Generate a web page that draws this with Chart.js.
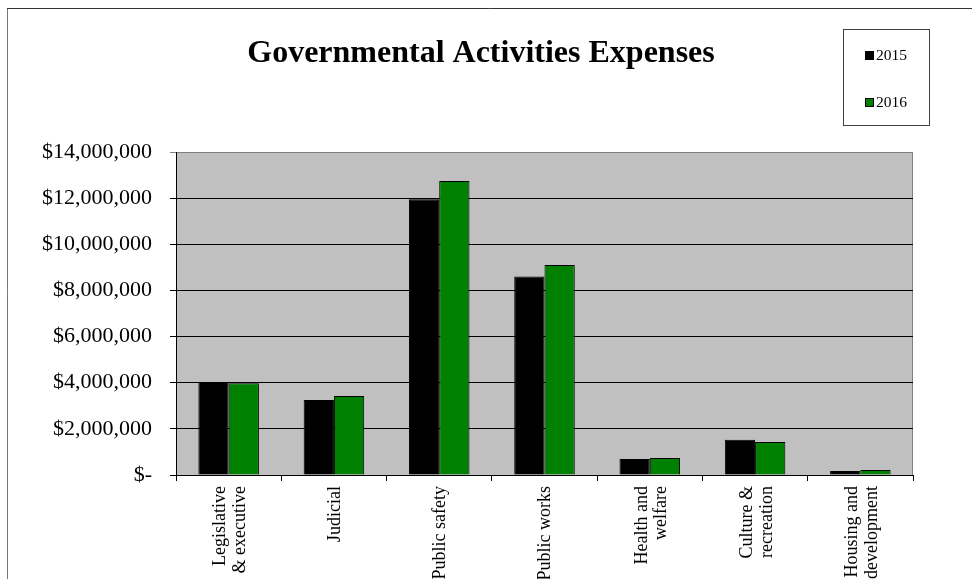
<!DOCTYPE html>
<html>
<head>
<meta charset="utf-8">
<script src="https://cdn.jsdelivr.net/npm/chart.js@4/dist/chart.umd.min.js"></script>
<style>
  html, body { margin: 0; padding: 0; background: #fff; }
  #wrap { width: 972px; height: 579px; position: relative; }
</style>
</head>
<body>
<div id="wrap"><canvas id="expense-chart" width="972" height="579"></canvas></div>
<script>
const chartTitle = 'Governmental Activities Expenses';
const categories = [
    ['Legislative', '& executive'],
    'Judicial',
    'Public safety',
    'Public works',
    ['Health and', 'welfare'],
    ['Culture &', 'recreation'],
    ['Housing and', 'development']
];
const years = ['2015', '2016'];
const expenses2015 = [4030000, 3250000, 11950000, 8600000, 690000, 1530000, 170000];
const expenses2016 = [3980000, 3420000, 12740000, 9100000, 740000, 1430000, 220000];
const yTicks = [0, 2000000, 4000000, 6000000, 8000000, 10000000, 12000000, 14000000];

const serif = "'Liberation Serif', 'Times New Roman', serif";

function money(v) {
    if (v === 0) return '$-';
    return '$' + v.toLocaleString('en-US');
}

// grey plot background + frame round the whole chart
const backdrop = {
    id: 'backdrop',
    beforeDraw(chart) {
        const { ctx, chartArea: a } = chart;
        ctx.save();
        ctx.fillStyle = '#c0c0c0';
        ctx.fillRect(a.left, a.top, a.right - a.left, a.bottom - a.top);
        ctx.strokeStyle = '#808080';
        ctx.lineWidth = 1;
        ctx.strokeRect(a.left + 0.5, a.top + 0.5, a.right - a.left - 1, a.bottom - a.top);
        // outer frame (runs off the right and bottom edges)
        ctx.beginPath();
        ctx.strokeStyle = '#777';
        ctx.moveTo(7.5, chart.height);
        ctx.lineTo(7.5, 8.5);
        ctx.stroke();
        ctx.beginPath();
        ctx.strokeStyle = '#333';
        ctx.moveTo(7, 8.5);
        ctx.lineTo(chart.width, 8.5);
        ctx.stroke();
        ctx.restore();

        // two-line category labels sit a bit left of the tick, like the original
        const xs = chart.scales.x;
        const items = xs.getLabelItems();
        if (!items._shifted) {
            items.forEach(it => {
                if (Array.isArray(it.label)) it.options.translation[0] -= 8;
                else it.options.translation[0] += 1;
            });
            items._shifted = true;
        }
    }
};

// title, centred over the whole frame
const titleText = {
    id: 'titleText',
    afterDraw(chart) {
        const ctx = chart.ctx;
        ctx.save();
        ctx.font = 'bold 32px ' + serif;
        ctx.fillStyle = '#000';
        ctx.textAlign = 'center';
        ctx.textBaseline = 'alphabetic';
        ctx.fillText(chartTitle, 481, 62);
        ctx.restore();
    }
};

// boxed legend in the top right corner
const boxLegend = {
    id: 'boxLegend',
    afterDraw(chart) {
        const ctx = chart.ctx;
        ctx.save();
        ctx.strokeStyle = '#404040';
        ctx.lineWidth = 1;
        ctx.strokeRect(843.5, 29.5, 86, 96);
        ctx.font = '15.5px ' + serif;
        ctx.textBaseline = 'middle';
        chart.data.datasets.forEach((ds, i) => {
            const y = 55 + i * 47;
            ctx.fillStyle = ds.backgroundColor;
            ctx.fillRect(865, y - 4, 9, 9);
            ctx.strokeStyle = '#000';
            ctx.strokeRect(865.5, y - 3.5, 8, 8);
            ctx.fillStyle = '#000';
            ctx.fillText(ds.label, 876, y + 1);
        });
        ctx.restore();
    }
};

function init() {
    const ctx = document.getElementById('expense-chart').getContext('2d');
    window.expenseChart = new Chart(ctx, {
        type: 'bar',
        data: {
            labels: categories,
            datasets: [{
                label: years[0],
                data: expenses2015,
                backgroundColor: '#000000',
                borderColor: '#000000',
                borderWidth: 1
            }, {
                label: years[1],
                data: expenses2016,
                backgroundColor: '#008000',
                borderColor: '#000000',
                borderWidth: 1
            }]
        },
        options: {
            responsive: false,
            animation: false,
            layout: { padding: { left: 0, right: 59, top: 152, bottom: 0 } },
            datasets: {
                bar: { categoryPercentage: 0.575, barPercentage: 1.0 }
            },
            plugins: {
                legend: { display: false },
                tooltip: { enabled: false },
                title: { display: false }
            },
            scales: {
                x: {
                    grid: {
                        offset: true,
                        drawOnChartArea: false,
                        drawTicks: true,
                        tickLength: 6,
                        color: '#000'
                    },
                    border: { color: '#000', width: 1 },
                    ticks: {
                        color: '#000',
                        maxRotation: 90,
                        minRotation: 90,
                        autoSkip: false,
                        padding: 5,
                        font: { family: serif, size: 18, lineHeight: 1.1 }
                    },
                    afterFit(scale) { scale.height = 104; }
                },
                y: {
                    min: 0,
                    max: 14000000,
                    afterBuildTicks(scale) {
                        scale.ticks = yTicks.map(v => ({ value: v }));
                    },
                    grid: {
                        color: c => (c.tick && c.tick.value === 14000000 ? '#808080' : '#000'),
                        lineWidth: 1,
                        tickLength: 6
                    },
                    border: { color: '#000', width: 1 },
                    ticks: {
                        color: '#000',
                        padding: 18,
                        font: { family: serif, size: 22 },
                        callback: v => money(v)
                    },
                    afterFit(scale) { scale.width = 176; }
                }
            }
        },
        plugins: [backdrop, titleText, boxLegend]
    });
}

document.addEventListener('DOMContentLoaded', init);
</script>
</body>
</html>
